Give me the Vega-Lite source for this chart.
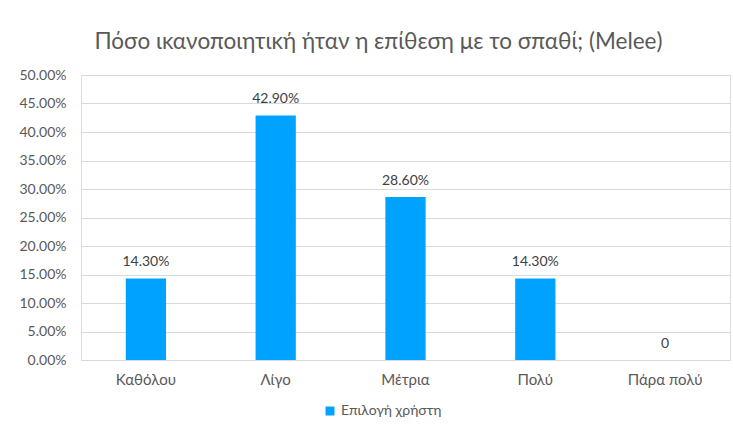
{
  "$schema": "https://vega.github.io/schema/vega-lite/v6.json",
  "autosize": {"type": "none"},
  "width": 649,
  "height": 285,
  "padding": {"left": 81, "top": 75, "right": 3, "bottom": 78},
  "background": "#ffffff",
  "title": {
    "text": "Πόσο ικανοποιητική ήταν η επίθεση με το σπαθί; (Melee)",
    "fontSize": 22.5,
    "fontWeight": "normal",
    "color": "#595959",
    "font": "Lato",
    "anchor": "middle",
    "dx": -27,
    "offset": 15
  },
  "data": {
    "values": [
      {"category": "Καθόλου", "value": 0.143, "label": "14.30%", "series": "Επιλογή χρήστη"},
      {"category": "Λίγο", "value": 0.429, "label": "42.90%", "series": "Επιλογή χρήστη"},
      {"category": "Μέτρια", "value": 0.286, "label": "28.60%", "series": "Επιλογή χρήστη"},
      {"category": "Πολύ", "value": 0.143, "label": "14.30%", "series": "Επιλογή χρήστη"},
      {"category": "Πάρα πολύ", "value": 0, "label": "0", "series": "Επιλογή χρήστη"}
    ]
  },
  "encoding": {
    "x": {
      "field": "category",
      "type": "nominal",
      "sort": null,
      "scale": {"paddingInner": 0.69, "paddingOuter": 0.345},
      "axis": {
        "title": null,
        "labelAngle": 0,
        "labelFontSize": 15,
        "labelColor": "#595959",
        "labelFont": "Lato",
        "labelPadding": 12,
        "ticks": false,
        "domainColor": "#d9d9d9",
        "domainWidth": 1
      }
    },
    "y": {
      "field": "value",
      "type": "quantitative",
      "scale": {"domain": [0, 0.5], "nice": false},
      "axis": {
        "title": null,
        "format": ".2%",
        "values": [0, 0.05, 0.1, 0.15, 0.2, 0.25, 0.3, 0.35, 0.4, 0.45, 0.5],
        "labelFontSize": 14,
        "labelColor": "#595959",
        "labelFont": "Lato",
        "labelPadding": 15,
        "ticks": false,
        "domain": false,
        "gridColor": "#d9d9d9",
        "gridWidth": 1
      }
    }
  },
  "layer": [
    {
      "mark": {"type": "bar"},
      "encoding": {
        "color": {
          "field": "series",
          "type": "nominal",
          "scale": {"range": ["#00a2ff"]},
          "legend": {
            "title": null,
            "orient": "none",
            "legendX": 242,
            "legendY": 329,
            "direction": "horizontal",
            "symbolType": "square",
            "symbolSize": 80,
            "symbolStrokeWidth": 0,
            "labelFontSize": 14,
            "labelColor": "#595959",
            "labelFont": "Lato"
          }
        }
      }
    },
    {
      "mark": {"type": "text", "baseline": "alphabetic", "dy": -12, "fontSize": 14, "color": "#404040", "font": "Lato"},
      "encoding": {"text": {"field": "label"}}
    }
  ]
}
